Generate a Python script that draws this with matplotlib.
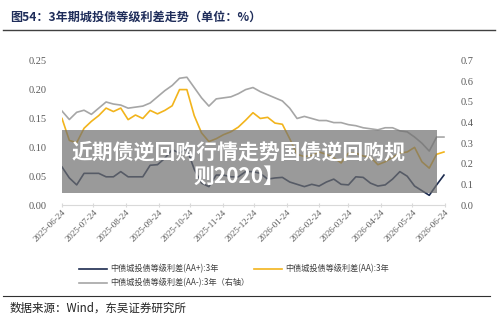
import matplotlib
matplotlib.use("Agg")
import matplotlib.pyplot as plt
import matplotlib.dates as mdates
import pandas as pd

# weekly sampling of the three spread series
dates = pd.date_range("2025-06-24", periods=53, freq="7D")

aa_plus = [0.066, 0.047, 0.035, 0.055, 0.055, 0.055, 0.049, 0.049, 0.058, 0.049,
           0.049, 0.049, 0.069, 0.070, 0.081, 0.096, 0.090, 0.098, 0.062, 0.038,
           0.032, 0.052, 0.052, 0.049, 0.049, 0.058, 0.058, 0.055, 0.045, 0.047,
           0.048, 0.040, 0.036, 0.032, 0.036, 0.033, 0.040, 0.045, 0.036, 0.035,
           0.049, 0.048, 0.038, 0.033, 0.035, 0.045, 0.058, 0.050, 0.033, 0.025,
           0.017, 0.035, 0.052]

aa = [0.150, 0.112, 0.108, 0.133, 0.145, 0.155, 0.168, 0.162, 0.168, 0.148,
      0.156, 0.150, 0.164, 0.158, 0.164, 0.172, 0.200, 0.200, 0.155, 0.125,
      0.110, 0.115, 0.122, 0.127, 0.135, 0.147, 0.160, 0.150, 0.152, 0.142,
      0.140, 0.115, 0.088, 0.084, 0.086, 0.092, 0.088, 0.082, 0.073, 0.090,
      0.090, 0.085, 0.083, 0.070, 0.075, 0.083, 0.090, 0.092, 0.100, 0.075,
      0.064, 0.088, 0.092]

aa_minus = [0.456, 0.415, 0.450, 0.460, 0.440, 0.470, 0.500, 0.490, 0.485, 0.470,
            0.475, 0.480, 0.495, 0.525, 0.555, 0.580, 0.615, 0.620, 0.570, 0.520,
            0.480, 0.515, 0.520, 0.525, 0.540, 0.560, 0.570, 0.550, 0.535, 0.520,
            0.505, 0.470, 0.420, 0.430, 0.420, 0.410, 0.410, 0.400, 0.400, 0.390,
            0.385, 0.375, 0.370, 0.365, 0.375, 0.375, 0.360, 0.355, 0.330, 0.300,
            0.262, 0.330, 0.330]

labels = ["中债城投债等级利差(AA+):3年", "中债城投债等级利差(AA):3年",
          "中债城投债等级利差(AA-):3年（右轴）"]

left_ticks = [0.00, 0.05, 0.10, 0.15, 0.20, 0.25]
right_ticks = [0.0, 0.1, 0.2, 0.3, 0.4, 0.5, 0.6, 0.7]

cjk = ["Noto Sans CJK SC", "DejaVu Sans"]
serif = "Liberation Serif"
tick_color = "#595959"

fig = plt.figure(figsize=(5, 3.23), dpi=100)
ax = fig.add_axes([0.124, 0.365, 0.766, 0.447])
ax2 = ax.twinx()

l1, = ax.plot(dates, aa_plus, color="#1c2b4f", lw=1.2)
l2, = ax.plot(dates, aa, color="#f2b41c", lw=1.2)
l3, = ax2.plot(dates, aa_minus, color="#a6a6a6", lw=1.2)

ax.set_ylim(0, 0.25)
ax2.set_ylim(0, 0.7)
ax.set_yticks(left_ticks)
ax.set_yticklabels([f"{v:.2f}" for v in left_ticks])
ax2.set_yticks(right_ticks)
ax2.set_yticklabels([f"{v:.1f}" for v in right_ticks])

ax.set_xlim(pd.Timestamp("2025-06-24"), pd.Timestamp("2026-06-24"))
ax.xaxis.set_major_locator(mdates.MonthLocator(bymonthday=24))
ax.xaxis.set_major_formatter(mdates.DateFormatter("%Y-%m-%d"))

for a in (ax, ax2):
    for s in a.spines.values():
        s.set_visible(False)
    a.tick_params(axis="y", length=0, labelsize=7.5, labelcolor=tick_color, pad=11)
    for t in a.get_yticklabels():
        t.set_fontfamily(serif)
ax.spines["bottom"].set_visible(True)
ax.spines["bottom"].set_color("#d9d9d9")
ax.tick_params(axis="x", length=3, color="#d9d9d9", direction="inout",
               labelsize=6.5, labelcolor=tick_color, pad=1)
for t in ax.get_xticklabels():
    t.set_fontfamily(serif)
    t.set_rotation(45)
    t.set_ha("right")
    t.set_rotation_mode("anchor")

# title and rules
fig.text(0.02, 0.947, "图54：3年期城投债等级利差走势（单位：%）", family=cjk,
         fontsize=8.7, fontweight="bold", color="#1f2d5a", va="center")
fig.add_artist(plt.Line2D([0.005, 0.99], [0.907, 0.907], color="#404040", lw=1))
fig.add_artist(plt.Line2D([0.005, 0.98], [0.084, 0.084], color="#303030", lw=0.8))
fig.text(0.02, 0.046, "数据来源：Wind，东吴证券研究所", family=cjk,
         fontsize=8.3, color="#222222", va="center")

fig.legend([l1, l3, l2], [labels[0], labels[2], labels[1]], ncol=2, frameon=False,
           loc="upper left", bbox_to_anchor=(0.143, 0.205), prop={"family": cjk, "size": 5.9},
           handlelength=3.4, columnspacing=0.6, labelcolor="#404040", labelspacing=0.6,
           handletextpad=0.4)

# overlay banner
fig.patches.append(plt.Rectangle((0.124, 0.403), 0.75, 0.195, transform=fig.transFigure,
                                 facecolor="#707070", alpha=0.7, edgecolor="none"))
fig.text(0.478, 0.492, "近期债逆回购行情走势国债逆回购规\n则2020】", family=cjk,
         fontsize=15, fontweight="bold", color="white", ha="center", va="center",
         linespacing=1.2)

fig.savefig("out.png", dpi=100)
